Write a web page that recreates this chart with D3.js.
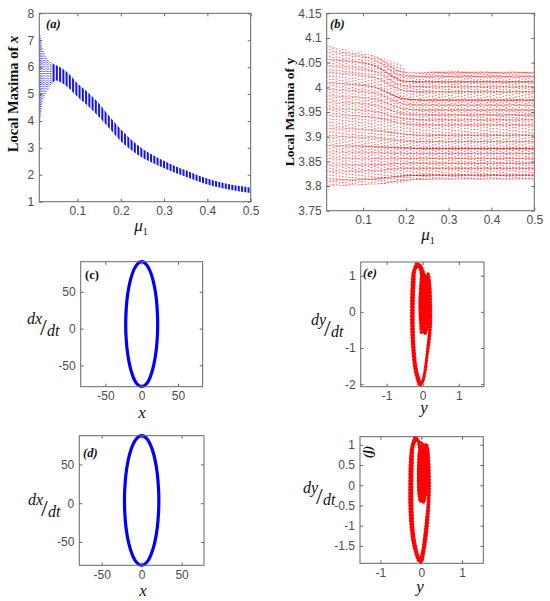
<!DOCTYPE html>
<html>
<head>
<meta charset="utf-8">
<script src="https://cdn.jsdelivr.net/npm/d3@7"></script>
<style>
  body { margin: 0; background: #fff; }
  .tick text { font-family: "Liberation Sans", Arial, sans-serif; font-size: 12px; fill: #4d4d4d; }
  .tick line { stroke: #666; }
  .serif { font-family: "Liberation Serif", "Times New Roman", serif; fill: #111; }
</style>
</head>
<body>
<svg id="chart" width="550" height="601"></svg>
<script>
// sampling columns of mu used in both bifurcation diagrams
const muCols = [0.015,0.0225,0.03,0.0375,0.045,0.0525,0.06,0.0675,0.075,0.0825,0.09,0.0975,0.105,0.1125,0.12,0.1275,0.135,0.1425,0.15,0.1575,0.165,0.1725,0.18,0.1875,0.195,0.2025,0.21,0.2175,0.225,0.2325,0.24,0.2475,0.255,0.2625,0.27,0.2775,0.285,0.2925,0.3,0.3075,0.315,0.3225,0.33,0.3375,0.345,0.3525,0.36,0.3675,0.375,0.3825,0.39,0.3975,0.405,0.4125,0.42,0.4275,0.435,0.4425,0.45,0.4575,0.465,0.4725,0.48,0.4875,0.495];
// extra columns in the scattered start of (a)
const muEarlyA = [0.013, 0.0165, 0.019, 0.026, 0.0335, 0.041];

// (a) band of local maxima of x: [mu, lower, upper]
const bandA = [
  [0.012, 3.8, 7.5], [0.016, 4.3, 7.0], [0.02, 4.7, 6.7], [0.025, 4.95, 6.5],
  [0.03, 5.1, 6.35], [0.04, 5.35, 6.15], [0.05, 5.5, 6.08], [0.06, 5.45, 6.0],
  [0.075, 5.29, 5.83], [0.1, 4.9, 5.4], [0.125, 4.55, 5.05], [0.15, 4.15, 4.65],
  [0.175, 3.7, 4.15], [0.2, 3.25, 3.69], [0.225, 2.91, 3.29], [0.25, 2.63, 2.97],
  [0.275, 2.43, 2.73], [0.3, 2.24, 2.52], [0.325, 2.08, 2.33], [0.35, 1.93, 2.17],
  [0.375, 1.78, 2.0], [0.4, 1.64, 1.86], [0.425, 1.54, 1.74], [0.45, 1.45, 1.65],
  [0.475, 1.38, 1.58], [0.5, 1.32, 1.52]
];

// (b) envelope of local maxima of y: [mu, lower, upper]
const bandB = [
  [0.015, 3.800, 4.085], [0.05, 3.800, 4.078], [0.1, 3.802, 4.070], [0.15, 3.804, 4.058],
  [0.19, 3.806, 4.045], [0.205, 3.809, 4.030], [0.22, 3.812, 4.030], [0.3, 3.813, 4.034],
  [0.4, 3.813, 4.032], [0.5, 3.813, 4.032]
];
// (b) rows of maxima, y read at mu = 0.015, 0.12, 0.2, 0.25 and 0.5
const rowMuB = [0.015, 0.12, 0.2, 0.25, 0.5];
const rowsB = [
  [4.082, 4.066, 4.030, 4.030, 4.030], [4.072, 4.058, 4.022, 4.022, 4.022],
  [4.057, 4.046, 4.012, 4.011, 4.011], [4.044, 4.034, 4.002, 4.001, 4.001],
  [4.031, 4.022, 3.993, 3.991, 3.991], [4.009, 4.002, 3.976, 3.974, 3.974],
  [3.996, 3.990, 3.966, 3.964, 3.964], [3.983, 3.977, 3.956, 3.954, 3.954],
  [3.970, 3.965, 3.946, 3.944, 3.944], [3.957, 3.952, 3.936, 3.934, 3.934],
  [3.944, 3.940, 3.926, 3.924, 3.924], [3.917, 3.914, 3.905, 3.903, 3.903],
  [3.900, 3.898, 3.891, 3.890, 3.890], [3.882, 3.880, 3.877, 3.876, 3.876],
  [3.869, 3.868, 3.866, 3.866, 3.866], [3.856, 3.856, 3.856, 3.856, 3.856],
  [3.843, 3.843, 3.846, 3.846, 3.846], [3.830, 3.831, 3.836, 3.836, 3.836],
  [3.812, 3.814, 3.821, 3.822, 3.822], [3.801, 3.803, 3.812, 3.814, 3.814]
];
// rows that print darker in the picture (index into rowsB)
const strongRowsB = [2, 5, 13, 18];

// (c), (d) phase portraits x vs dx/dt
const orbitC = [[0,91],[7.4,86],[13.2,74],[17.4,58],[20.2,40],[21.7,20],[22,5],[21.6,-10],[19.9,-30],[16.5,-50],[11.7,-66],[6.7,-75],[0,-79],[-6.7,-75],[-11.7,-66],[-16.5,-50],[-19.9,-30],[-21.6,-10],[-22,5],[-21.7,20],[-20.2,40],[-17.4,58],[-13.2,74],[-7.4,86]];
const orbitD = [[0,87],[7.3,82.1],[12.9,70.3],[17,54.6],[19.7,36.9],[21.2,17.3],[21.5,3.5],[21.1,-12.2],[19.5,-31.9],[16.2,-51.5],[11.4,-67.2],[6.5,-76.1],[0,-80],[-6.5,-76.1],[-11.4,-67.2],[-16.2,-51.5],[-19.5,-31.9],[-21.1,-12.2],[-21.5,3.5],[-21.2,17.3],[-19.7,36.9],[-17,54.6],[-12.9,70.3],[-7.3,82.1]];

// (e), (f) phase portraits y vs dy/dt (trajectory samples)
const trajE = [[-0.18,1.33],[-0.26,1.1],[-0.30,0.6],[-0.31,0.0],[-0.30,-0.6],[-0.27,-1.1],[-0.22,-1.55],[-0.15,-1.85],[-0.08,-2.03],[0.0,-1.92],[0.07,-1.62],[0.12,-1.2],[0.18,-0.8],[0.22,-0.3],[0.22,0.2],[0.20,0.7],[0.15,1.05],[0.10,0.92],
  [0.06,0.6],[0.03,0.1],[0.0,-0.4],[-0.03,-0.6],[-0.06,-0.3],[-0.07,0.3],[-0.05,0.8],[0.0,1.05],[0.05,0.8],[0.1,0.3],[0.12,-0.2],[0.1,-0.5],[0.05,-0.55],[0.02,-0.1],[0.0,0.5],[-0.03,0.95],[-0.1,1.25],
  [-0.2,1.2],[-0.24,0.8],[-0.26,0.2],[-0.26,-0.5],[-0.24,-1.0],[-0.2,-1.45],[-0.12,-1.82],[-0.05,-2.0],[0.03,-1.8],[0.09,-1.45],[0.14,-1.0],[0.19,-0.5],[0.2,0.1],[0.18,0.6],[0.13,0.95],
  [0.08,0.7],[0.06,0.2],[0.04,-0.3],[0.0,-0.55],[-0.04,-0.2],[-0.04,0.4],[0.0,0.9],[0.06,0.95],[0.1,0.5],[0.08,0.0],[0.03,0.3],[0.02,0.8],
  [0.09,0.85],[0.13,0.4],[0.14,-0.1],[0.11,-0.45],[0.06,-0.6],[-0.01,-0.35],[-0.05,0.1],[-0.05,0.6],[-0.02,1.0],[0.04,1.0],[0.07,0.5],[0.05,-0.1],[0.02,0.2],
  [-0.02,-0.45],[-0.07,-0.1],[-0.06,0.55],[0.01,0.75],[0.04,0.35],[0.08,-0.3],[0.12,0.15],[0.11,0.7],[0.05,1.0],[-0.08,1.3],[-0.18,1.33]];
const trajF = [[-0.16,1.18],[-0.23,0.95],[-0.27,0.55],[-0.28,0.05],[-0.28,-0.45],[-0.26,-0.9],[-0.21,-1.35],[-0.14,-1.65],[-0.06,-1.87],[0.0,-1.9],[0.05,-1.72],[0.1,-1.4],[0.15,-1.0],[0.18,-0.55],[0.2,-0.05],[0.19,0.45],[0.16,0.88],[0.12,1.02],[0.08,0.85],
  [0.06,0.4],[0.03,-0.1],[-0.02,-0.4],[-0.06,-0.2],[-0.07,0.3],[-0.05,0.8],[0.0,0.98],[0.06,0.75],[0.1,0.3],[0.11,-0.15],[0.07,-0.35],[0.02,-0.1],[0.0,0.45],[-0.04,0.9],[-0.1,1.15],
  [-0.19,1.0],[-0.22,0.5],[-0.23,-0.1],[-0.22,-0.7],[-0.19,-1.2],[-0.12,-1.6],[-0.04,-1.85],[0.03,-1.65],[0.08,-1.3],[0.13,-0.85],[0.17,-0.4],[0.17,0.2],[0.15,0.7],[0.1,0.95],
  [0.07,0.6],[0.05,0.1],[0.02,-0.3],[-0.03,0.1],[-0.02,0.6],[0.03,0.9],[0.08,0.5],[0.06,0.0],
  [0.1,0.8],[0.12,0.3],[0.1,-0.25],[0.05,-0.42],[-0.01,-0.2],[-0.04,0.3],[-0.02,0.85],[0.04,0.95],[0.06,0.4],[0.01,0.4],
  [-0.05,-0.1],[-0.06,0.5],[0.0,0.7],[0.04,0.2],[0.09,-0.2],[0.11,0.5],[0.06,0.98],[-0.08,1.1],[-0.16,1.18]];

// tick labels
const ticksA = { x: [0.1, 0.2, 0.3, 0.4, 0.5], y: [1, 2, 3, 4, 5, 6, 7, 8] };
const ticksB = { x: [0.1, 0.2, 0.3, 0.4, 0.5], y: [3.75, 3.8, 3.85, 3.9, 3.95, 4, 4.05, 4.1, 4.15] };
const ticksCD = { x: [-50, 0, 50], y: [-50, 0, 50] };
const ticksE = { x: [-1, 0, 1], y: [-2, -1, 0, 1] };
const ticksF = { x: [-1, 0, 1], y: [-1.5, -1, -0.5, 0, 0.5, 1] };

const svg = d3.select('#chart');
const defs = svg.append('defs');
const fmt = d => String(d);

// draws the frame and inward ticks of one MATLAB style axes box
function makePanel(o) {
  const x = d3.scaleLinear().domain(o.xDomain).range([o.left, o.right]);
  const y = d3.scaleLinear().domain(o.yDomain).range([o.bottom, o.top]);
  const g = svg.append('g');
  const plot = g.append('g');

  const axes = g.append('g');
  axes.append('g').attr('transform', 'translate(0,' + o.bottom + ')')
      .call(d3.axisBottom(x).tickValues(o.xTicks).tickSize(-3).tickPadding(5).tickFormat(fmt));
  axes.append('g').attr('transform', 'translate(0,' + o.top + ')')
      .call(d3.axisTop(x).tickValues(o.xTicks).tickSize(-3).tickFormat(''));
  axes.append('g').attr('transform', 'translate(' + o.left + ',0)')
      .call(d3.axisLeft(y).tickValues(o.yTicks).tickSize(-3).tickPadding(5).tickFormat(fmt));
  axes.append('g').attr('transform', 'translate(' + o.right + ',0)')
      .call(d3.axisRight(y).tickValues(o.yTicks).tickSize(-3).tickFormat(''));
  axes.selectAll('.domain').remove();
  axes.append('rect')
      .attr('x', o.left).attr('y', o.top)
      .attr('width', o.right - o.left).attr('height', o.bottom - o.top)
      .attr('fill', 'none').attr('stroke', '#666').attr('stroke-width', 1);
  return { x, y, g, plot };
}

function addText(t, x, y, size, opts) {
  opts = opts || {};
  return svg.append('text').attr('class', 'serif')
    .attr('x', x).attr('y', y)
    .attr('font-size', size)
    .attr('font-weight', opts.bold ? 'bold' : 'normal')
    .attr('font-style', opts.italic ? 'italic' : 'normal')
    .attr('text-anchor', opts.anchor || 'start')
    .text(t);
}

// mu_1 axis title
function muLabel(cx, y) {
  const t = svg.append('text').attr('class', 'serif').attr('x', cx).attr('y', y)
    .attr('text-anchor', 'middle').attr('font-size', 17);
  t.append('tspan').attr('font-style', 'italic').text('μ');
  t.append('tspan').attr('font-size', 10).attr('dy', 4).text('1');
}

// slanted fraction like dx/dt
function fracLabel(x, y, num) {
  addText('d' + num, x, y, 16, { italic: true });
  addText('/', x + 13, y + 11, 24);
  addText('dt', x + 20, y + 12, 16, { italic: true });
}

// ---------- (a) ----------
const A = makePanel({ left: 39.3, right: 250.7, top: 13.3, bottom: 201.7,
  xDomain: [0.012, 0.5], yDomain: [1, 8], xTicks: ticksA.x, yTicks: ticksA.y });
const areaA = d3.area().curve(d3.curveMonotoneX)
  .x(d => A.x(d[0])).y0(d => A.y(d[1])).y1(d => A.y(d[2]));
defs.append('clipPath').attr('id', 'clipA').append('path').attr('d', areaA(bandA));
const colsA = A.plot.append('g').attr('clip-path', 'url(#clipA)');
colsA.selectAll('line.main').data(muCols).enter().append('line')
  .attr('class', 'main')
  .attr('x1', d => A.x(d)).attr('x2', d => A.x(d))
  .attr('y1', A.y(1)).attr('y2', A.y(8))
  .attr('stroke', d => d < 0.045 ? '#4040ff' : '#1414f0')
  .attr('stroke-width', d => d < 0.045 ? 1.3 : 2)
  .attr('stroke-dasharray', d => d < 0.045 ? '1,1.2' : null);
colsA.selectAll('line.early').data(muEarlyA).enter().append('line')
  .attr('class', 'early')
  .attr('x1', d => A.x(d)).attr('x2', d => A.x(d))
  .attr('y1', A.y(1)).attr('y2', A.y(8))
  .attr('stroke', '#5a5aff').attr('stroke-width', 1)
  .attr('stroke-dasharray', '1,1.5');
addText('(a)', 46, 28, 12.5, { bold: true, italic: true });
svg.append('text').attr('class', 'serif')
  .attr('transform', 'translate(18,94) rotate(-90)')
  .attr('text-anchor', 'middle').attr('font-size', 14.5).attr('font-weight', 'bold')
  .call(t => {
    t.append('tspan').text('Local Maxima of ');
    t.append('tspan').attr('font-style', 'italic').text('x');
  });
muLabel(141, 231);

// ---------- (b) ----------
const B = makePanel({ left: 326.7, right: 534.3, top: 13.3, bottom: 210.7,
  xDomain: [0.015, 0.5], yDomain: [3.75, 4.15], xTicks: ticksB.x, yTicks: ticksB.y });
const areaB = d3.area().curve(d3.curveMonotoneX)
  .x(d => B.x(d[0])).y0(d => B.y(d[1])).y1(d => B.y(d[2]));
defs.append('clipPath').attr('id', 'clipB').append('path').attr('d', areaB(bandB));
// rows fade in where the maxima settle into lines
const fade = defs.append('linearGradient').attr('id', 'rowFade')
  .attr('gradientUnits', 'userSpaceOnUse')
  .attr('x1', B.x(0.015)).attr('x2', B.x(0.24)).attr('y1', 0).attr('y2', 0);
fade.append('stop').attr('offset', 0).attr('stop-color', '#ff0000').attr('stop-opacity', 0.3);
fade.append('stop').attr('offset', 1).attr('stop-color', '#ff0000').attr('stop-opacity', 1);
const colsB = B.plot.append('g').attr('clip-path', 'url(#clipB)');
colsB.selectAll('line').data(muCols).enter().append('line')
  .attr('x1', d => B.x(d)).attr('x2', d => B.x(d))
  .attr('y1', B.y(3.75)).attr('y2', B.y(4.15))
  .attr('stroke', '#ff2020').attr('stroke-opacity', 0.65)
  .attr('stroke-width', 1.4)
  .attr('stroke-dasharray', (d, i) => i % 3 === 0 ? '1.2,1.5' : (i % 3 === 1 ? '1.2,2.1' : '1.4,1.7'))
  .attr('stroke-dashoffset', (d, i) => (i * 1.3) % 2.9);
const rowLine = d3.line().curve(d3.curveMonotoneX)
  .x((d, i) => B.x(rowMuB[i])).y(d => B.y(d));
colsB.selectAll('path.row').data(rowsB).enter().append('path')
  .attr('class', 'row')
  .attr('d', d => rowLine(d))
  .attr('fill', 'none').attr('stroke', 'url(#rowFade)')
  .attr('stroke-width', 1.4)
  .attr('stroke-opacity', (d, i) => strongRowsB.includes(i) ? 0.95 : 0.55)
  .attr('stroke-dasharray', '2.2,1');
addText('(b)', 330, 28, 12.5, { bold: true, italic: true });
svg.append('text').attr('class', 'serif')
  .attr('transform', 'translate(294,112) rotate(-90)')
  .attr('text-anchor', 'middle').attr('font-size', 13.5).attr('font-weight', 'bold')
  .text('Local Maxima of y');
muLabel(428, 240);

// ---------- (c) ----------
const C = makePanel({ left: 80.7, right: 202.7, top: 261.7, bottom: 386.7,
  xDomain: [-84, 84], yDomain: [-79, 91], xTicks: ticksCD.x, yTicks: ticksCD.y });
C.plot.append('path')
  .attr('d', d3.line().curve(d3.curveCardinalClosed).x(d => C.x(d[0])).y(d => C.y(d[1]))(orbitC))
  .attr('fill', 'none').attr('stroke', '#0000ff').attr('stroke-width', 3.2);
addText('(c)', 85, 279, 12.5, { bold: true });
fracLabel(27, 324, 'x');
addText('x', 142, 418, 17, { italic: true, anchor: 'middle' });

// ---------- (d) ----------
const D = makePanel({ left: 79.3, right: 204, top: 435.7, bottom: 565.3,
  xDomain: [-78, 78], yDomain: [-80, 87], xTicks: ticksCD.x, yTicks: ticksCD.y });
D.plot.append('path')
  .attr('d', d3.line().curve(d3.curveCardinalClosed).x(d => D.x(d[0])).y(d => D.y(d[1]))(orbitD))
  .attr('fill', 'none').attr('stroke', '#0000ff').attr('stroke-width', 3.2);
addText('(d)', 83, 457, 12.5, { bold: true, italic: true });
fracLabel(28, 505, 'x');
addText('x', 143, 596, 17, { italic: true, anchor: 'middle' });

// ---------- (e) ----------
const E = makePanel({ left: 360.7, right: 484, top: 262, bottom: 386.7,
  xDomain: [-1.72, 1.7], yDomain: [-2.07, 1.38], xTicks: ticksE.x, yTicks: ticksE.y });
E.plot.append('path')
  .attr('d', d3.line().curve(d3.curveCatmullRom).x(d => E.x(d[0])).y(d => E.y(d[1]))(trajE))
  .attr('fill', 'none').attr('stroke', '#ff0000').attr('stroke-width', 3.2)
  .attr('stroke-linecap', 'round').attr('stroke-dasharray', '0.5,2.6');
addText('(e)', 363, 277, 12.5, { bold: true, italic: true });
fracLabel(311, 325, 'y');
addText('y', 424, 413, 17, { italic: true, anchor: 'middle' });

// ---------- (f) ----------
const F = makePanel({ left: 360, right: 483.3, top: 436.7, bottom: 563.3,
  xDomain: [-1.5, 1.52], yDomain: [-1.93, 1.2], xTicks: ticksF.x, yTicks: ticksF.y });
F.plot.append('path')
  .attr('d', d3.line().curve(d3.curveCatmullRom).x(d => F.x(d[0])).y(d => F.y(d[1]))(trajF))
  .attr('fill', 'none').attr('stroke', '#ff0000').attr('stroke-width', 3.2)
  .attr('stroke-linecap', 'round').attr('stroke-dasharray', '0.5,2.6');
svg.append('text').attr('class', 'serif')
  .attr('transform', 'translate(366,446) rotate(90)')
  .attr('font-size', 12.5).attr('font-weight', 'bold').attr('font-style', 'italic')
  .text('(f)');
fracLabel(303, 493, 'y');
addText('y', 420, 592, 17, { italic: true, anchor: 'middle' });
</script>
</body>
</html>
